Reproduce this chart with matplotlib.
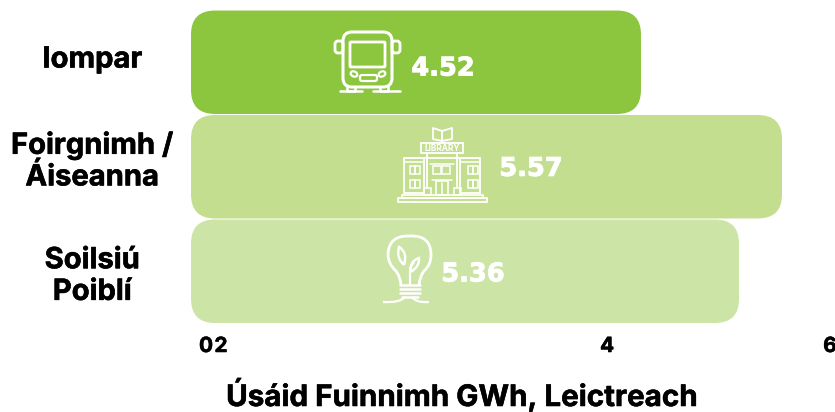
#!/usr/bin/env python3
# -*- coding: utf-8 -*-
import matplotlib
matplotlib.use('Agg')
import matplotlib.pyplot as plt
import matplotlib.patheffects as pe
from matplotlib.patches import FancyBboxPatch, Ellipse, PathPatch
from matplotlib.path import Path

W, H = 835, 412

categories = ['Iompar', 'Foirgnimh /\nÁiseanna', 'Soilsiú\nPoiblí']
bar_lengths = [4.50, 5.91, 5.48]   # drawn length of the bars
value_labels = ['4.52', '5.57', '5.36']
bar_colors = ['#8CC63F', '#C3DE8F', '#CCE4A5']
tick_labels = ['0', '2', '4', '6']
x_title = 'Úsáid Fuinnimh GWh, Leictreach'

WHITE = '#FFFFFF'
LABEL_FONT = ['Inter', 'DejaVu Sans']
VALUE_FONT = ['DejaVu Sans']
HEAVY = [pe.withStroke(linewidth=0.4, foreground='black')]
HEAVY_W = [pe.withStroke(linewidth=0.7, foreground=WHITE)]

fig = plt.figure(figsize=(W / 100, H / 100), dpi=100)

# main axes, one x unit is 100 px
ax = fig.add_axes([191 / W, (H - 323.5) / H, (W - 191) / W, 313.5 / H])
ax.set_xlim(0, 6.44)
ax.set_ylim(2.5, -0.5)

for i, (length, color) in enumerate(zip(bar_lengths, bar_colors)):
    ax.add_patch(FancyBboxPatch((0, i - 0.495), length, 0.99,
                                boxstyle='round,pad=0,rounding_size=0.24',
                                mutation_aspect=0.96, fc=color, ec='none'))

value_pos = [2.52, 3.40, 2.82]
value_y = [0.06, 1.02, 2.03]
for xv, yv, txt in zip(value_pos, value_y, value_labels):
    ax.text(xv, yv, txt, color=WHITE, fontsize=18.5, fontweight='bold',
            family=VALUE_FONT, ha='center', va='center', path_effects=HEAVY_W)

ax.set_yticks([-0.05, 0.90, 2.0])
ax.set_yticklabels(categories, fontsize=21, fontweight='bold', family=LABEL_FONT,
                   ha='center', linespacing=1.22, path_effects=HEAVY)
ax.tick_params(axis='y', length=0, pad=71)

ax.set_xticks([0.15, 0.30, 4.16, 6.39])
ax.set_xticklabels(tick_labels, fontsize=15, fontweight='bold', family=LABEL_FONT,
                   path_effects=HEAVY)
ax.tick_params(axis='x', length=0, pad=9)

ax.set_xlabel(x_title, fontsize=21.3, fontweight='bold', family=LABEL_FONT, path_effects=HEAVY)
ax.xaxis.set_label_coords(271 / 644, -(395 - 323.5) / 313.5, transform=ax.transAxes)
ax.xaxis.label.set_va('center')

for s in ax.spines.values():
    s.set_visible(False)

# overlay in pixel coords for the pictograms
ov = fig.add_axes([0, 0, 1, 1], facecolor='none')
ov.set_xlim(0, W)
ov.set_ylim(H, 0)
ov.axis('off')


def rbox(x0, y0, x1, y1, r=0.0, lw=1.6):
    ov.add_patch(FancyBboxPatch((x0, y0), x1 - x0, y1 - y0,
                                boxstyle='round,pad=0,rounding_size=%s' % r if r else 'square,pad=0',
                                fc='none', ec=WHITE, lw=lw))


def line(xs, ys, lw=1.6):
    ov.plot(xs, ys, color=WHITE, lw=lw, solid_capstyle='round')


def curve(verts, codes, lw=1.6):
    ov.add_patch(PathPatch(Path(verts, codes), fc='none', ec=WHITE, lw=lw))


# bus
rbox(343, 32, 392, 87, r=9, lw=2.2)
rbox(350, 42, 385, 67, r=1, lw=2)
rbox(335, 41, 343, 53, r=3, lw=2)
rbox(392, 41, 400, 53, r=3, lw=2)
ov.add_patch(Ellipse((354, 74), 7, 5, angle=25, fc='none', ec=WHITE, lw=1.6))
ov.add_patch(Ellipse((382, 74), 7, 5, angle=-25, fc='none', ec=WHITE, lw=1.6))
rbox(360, 75, 377, 81, r=2, lw=1.6)
line([347, 347, 355, 355], [87, 91, 91, 87], lw=1.8)
line([380, 380, 388, 388], [87, 91, 91, 87], lw=1.8)
line([340, 362], [91, 91], lw=1.8)
line([373, 400], [91, 91], lw=1.8)

# library
M, L, C = Path.MOVETO, Path.LINETO, Path.CURVE3
line([442, 442, 433, 433, 442], [141, 131, 128, 139, 141], lw=1.3)
line([442, 452, 452, 442], [131, 128, 139, 141], lw=1.3)
rbox(421, 143, 463, 153, lw=1.3)
ov.text(442, 148.3, 'LIBRARY', color=WHITE, fontsize=6, fontweight='bold',
        family=LABEL_FONT, ha='center', va='center')
rbox(404, 158, 424, 193, lw=1.3)
rbox(460, 158, 480, 193, lw=1.3)
line([405, 479], [158, 158], lw=1.3)
line([405, 424], [162, 162], lw=1.1)
line([460, 479], [162, 162], lw=1.1)
for cx in (427, 457):
    line([cx, cx], [153, 188], lw=1.3)
line([430, 454], [164, 164], lw=1.1)
for x0 in (410, 468):
    for y0 in (166, 180):
        rbox(x0, y0, x0 + 5, y0 + 8, lw=1.1)
        rbox(x0 + 5, y0, x0 + 10, y0 + 8, lw=1.1)
for x0 in (433, 442):
    rbox(x0, 166, x0 + 8, 174, lw=1.1)
rbox(436, 181, 448, 195, lw=1.2)
line([442, 442], [183, 195], lw=1.1)
line([432, 452], [180, 180], lw=1.1)
rbox(424, 188, 431, 195, lw=1.1)
rbox(454, 188, 461, 195, lw=1.1)
rbox(402, 195, 483, 198, lw=1.2)
rbox(398, 198, 487, 202, lw=1.3)

# light bulb
verts = [(401, 285), (400, 276), (396, 271), (388, 264), (388, 254), (389, 235),
         (410, 236), (431, 235), (431, 255), (431, 265), (424, 271), (420, 276), (419, 285)]
codes = [M, C, C, C, C, C, C, C, C, C, C, C, C]
curve(verts, codes, lw=2)
for yb, x0, x1 in [(285, 400, 420), (289, 400, 420), (293, 400, 420), (297, 402, 418)]:
    line([x0, x1], [yb, yb], lw=1.8)
line([410, 410], [285, 268], lw=1.6)
line([410, 414], [268, 262], lw=1.6)
curve([(404, 265), (396, 258), (399, 247), (408, 252), (404, 265)], [M, C, C, C, C], lw=1.7)
curve([(411, 272), (409, 261), (419, 258), (420, 266), (411, 272)], [M, C, C, C, C], lw=1.7)
curve([(383, 302), (400, 303), (405, 297)], [M, C, C], lw=1.6)
curve([(429, 302), (416, 303), (412, 297)], [M, C, C], lw=1.6)

fig.savefig('out.png', dpi=100)
